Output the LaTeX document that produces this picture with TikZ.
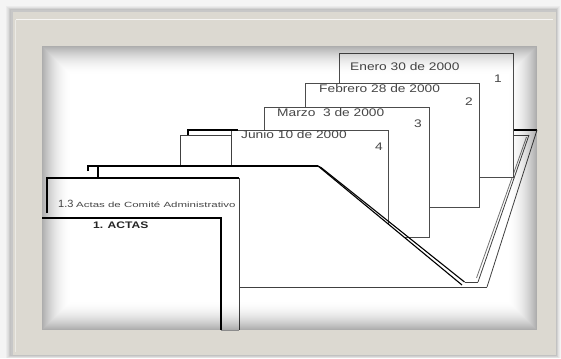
\documentclass[tikz,border=0pt]{standalone}
\usepackage{fontspec}
\setmainfont{Liberation Sans}
\usepackage{graphicx}
\definecolor{beige}{RGB}{220,217,209}
\definecolor{ink}{RGB}{70,70,70}
\newcommand{\hs}[2][1.25]{\scalebox{#1}[1]{#2}}
\begin{document}
\begin{tikzpicture}[x=1pt,y=-1pt,
  card/.style={draw=black!70, line width=0.8pt, fill=white},
  thinline/.style={draw=black!75, line width=0.8pt},
  darkline/.style={draw=black, line width=1.1pt},
  thickline/.style={draw=black, line width=1.6pt},
  lab/.style={inner sep=0pt, text=ink, font=\fontsize{11}{11}\selectfont}]
\useasboundingbox (0,0) rectangle (561,358);
% background and frame
\fill[gray!9] (0,0) rectangle (561,358);
\foreach \i in {1,...,6}{\fill[black, opacity=0.035] (11-\i*0.8,10-\i*0.6) rectangle (556+\i*0.6,355+\i*0.5);}
\fill[beige] (11,10) rectangle (556,355);
\draw[black!22, line width=2pt] (12,355) -- (12,11) -- (556,11);
\draw[white, opacity=0.75, line width=0.9pt] (16,19.5) -- (553,19.5);
\draw[white, opacity=0.45, line width=0.9pt] (15.5,20) -- (15.5,352);
\fill[white] (42,46) rectangle (537,330);
% folder side strip (behind cards)
\coordinate (s1) at (513,130);
\coordinate (s2) at (537,130);
\coordinate (s3) at (513,135);
\coordinate (s4) at (529,135);
\coordinate (b1) at (487,287);
\coordinate (a1) at (478,282);
\coordinate (a2t) at (526.5,137);
\coordinate (a2b) at (476.5,278);
\draw[thickline] (s1) -- (s2);
\draw[thinline] (s3) -- (s4);
\draw[thinline] (s2) -- (b1);
\draw[thinline] (s4) -- (a1);
\draw[thinline, draw=black!55] (a2t) -- (a2b);
% cards
\draw[card] (339,53) rectangle (513,177);
\draw[card] (305,83) rectangle (479,207);
\draw[card] (264,107) rectangle (429,237);
\draw[card] (231,130) rectangle (388,240);
\node[lab, anchor=west] (t1) at (350,67) {\hs{Enero 30 de 2000}};
\node[lab] (n1) at (498,79) {\hs{1}};
\node[lab, anchor=west] (t2) at (319,89) {\hs{Febrero 28 de 2000}};
\node[lab] (n2) at (469,102) {\hs{2}};
\node[lab, anchor=west] (t3) at (277,113) {\hs{Marzo \ 3 de 2000}};
\node[lab] (n3) at (418,124) {\hs{3}};
\node[lab, anchor=west] (t4) at (241,135) {\hs{Junio 10 de 2000}};
\node[lab] (n4) at (379,147) {\hs{4}};
% tabs of the back folder
\draw[thinline, fill=white] (180,165) -- (180,135) -- (231,135) -- (231,165);
\draw[thickline] (188,135.5) -- (188,130) -- (238,130);
% back folder panel
\coordinate (p1) at (88,166);
\coordinate (p2) at (318,166);
\coordinate (p3) at (462,285);
\coordinate (q2) at (321,166);
\coordinate (q3) at (464.5,282);
\fill[white] (88,166) -- (p2) -- (p3) -- (b1) -- (88,287) -- cycle;
\draw[darkline] (88,171) -- (88,166) -- (p2);
\draw[darkline] (p2) -- (p3);
\draw[darkline] (p2) -- (321,167.5) -- (q3);
\draw[thinline] (q3) -- (a1);
\draw[thinline] (238,287) -- (b1);
\draw[darkline] (98,166) -- (98,178);
% front folder
\fill[white] (47,178) rectangle (239,330);
\draw[darkline, line width=1.3pt] (47,213) -- (47,178) -- (239,178);
\draw[thinline] (239,178) -- (239,330);
\node[inner sep=0pt, anchor=west, text=ink, font=\fontsize{10.5}{10.5}\selectfont] (t13) at (58,204) {\hs[1.05]{1.3}};
\node[inner sep=0pt, anchor=west, text=ink, font=\fontsize{7.5}{7.5}\selectfont] (t13b) at (76,204.5) {\hs[1.53]{Actas de Comité Administrativo}};
\fill[white] (42,218) rectangle (221,330);
\draw[thickline] (42,218) -- (221,218) -- (221,330);
\draw[black!45, line width=0.8pt] (221,330) -- (239,330);
\node[inner sep=0pt, anchor=west, text=black!85, font=\fontsize{9.5}{9.5}\selectfont\bfseries] (act) at (93,225) {\hs[1.27]{1. ACTAS}};
% vignette
\foreach \i in {0,...,29}{
  \pgfmathsetmacro\op{0.32*(1-\i/30)^2}
  \draw[black, line width=1pt, draw opacity=\op] (42.5+\i,46.5+\i) rectangle (536.5-\i,329.5-\i);
}
\end{tikzpicture}
\end{document}
